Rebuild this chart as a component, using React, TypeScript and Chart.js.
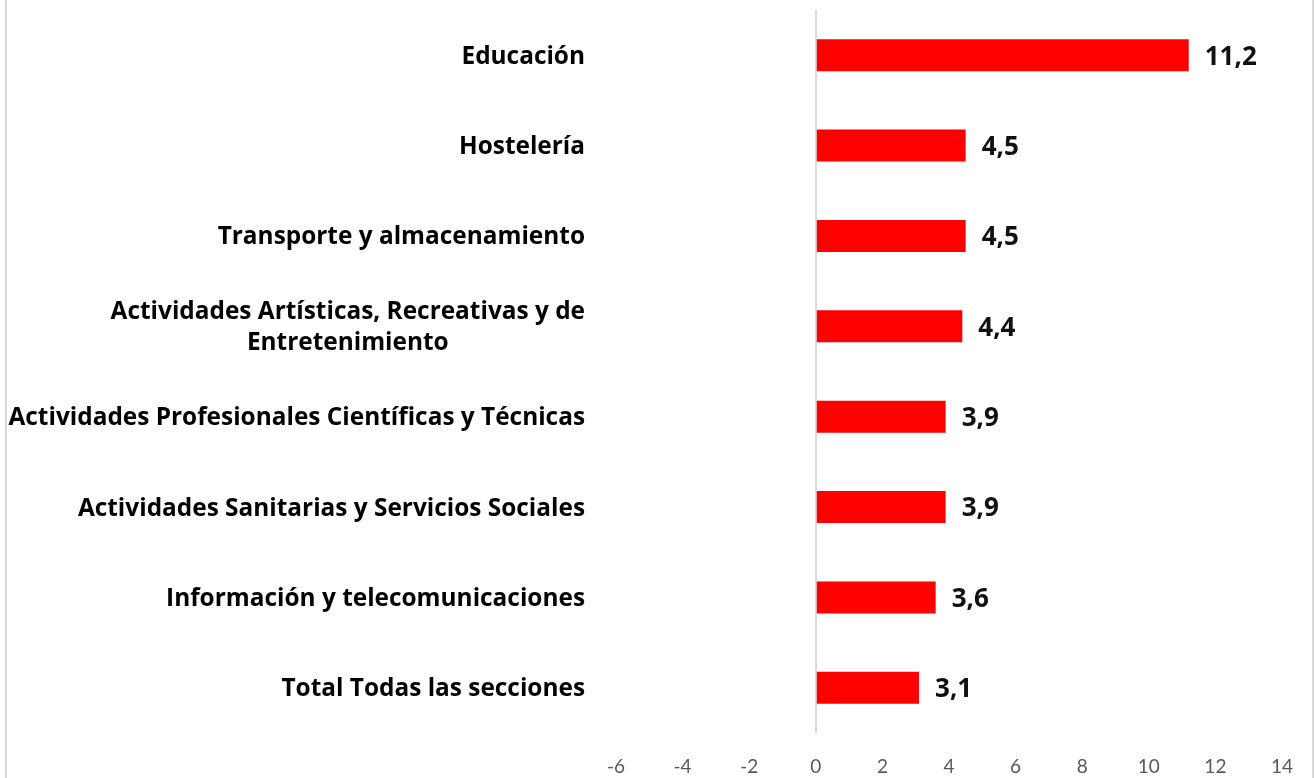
import React, { useEffect, useRef } from "react";
import { Chart, registerables } from "chart.js";

Chart.register(...registerables);

const categories: string[][] = [
  ["Educación"],
  ["Hostelería"],
  ["Transporte y almacenamiento"],
  ["Actividades Artísticas, Recreativas y de", "Entretenimiento"],
  ["Actividades Profesionales Científicas y Técnicas"],
  ["Actividades Sanitarias y Servicios Sociales"],
  ["Información y telecomunicaciones"],
  ["Total Todas las secciones"],
];
const values: number[] = [11.2, 4.5, 4.5, 4.4, 3.9, 3.9, 3.6, 3.1];
const xMin = -6;
const xMax = 14;
const xStep = 2;

const FONT = "'Open Sans', Lato, sans-serif";
const TICK_FONT = "Lato, 'Open Sans', sans-serif";

const labelPlugin = {
  id: "customLabels",
  afterDatasetsDraw(chart: any) {
    const ctx = chart.ctx;
    const yScale = chart.scales.y;
    const meta = chart.getDatasetMeta(0);
    ctx.save();
    // category labels
    ctx.font = `bold 24.4px ${FONT}`;
    ctx.fillStyle = "#000000";
    ctx.textBaseline = "middle";
    ctx.textAlign = "center";
    const rightEdge = chart.chartArea.left - 31;
    const lineH = 31;
    categories.forEach((lines, i) => {
      const yc = yScale.getPixelForValue(i) + 1.5;
      const w = Math.max(...lines.map((l) => ctx.measureText(l).width));
      const cx = rightEdge - w / 2;
      const y0 = yc - ((lines.length - 1) * lineH) / 2;
      lines.forEach((l, j) => ctx.fillText(l, cx, y0 + j * lineH));
    });
    // value labels
    ctx.font = `bold 26px ${FONT}`;
    ctx.fillStyle = "#111111";
    ctx.textAlign = "left";
    meta.data.forEach((bar: any, i: number) => {
      const txt = values[i].toFixed(1).replace(".", ",");
      ctx.fillText(txt, bar.x + 16, bar.y + 2);
    });
    ctx.restore();
  },
};

export default function App() {
  const ref = useRef<HTMLCanvasElement>(null);
  useEffect(() => {
    if (!ref.current) return;
    const chart = new Chart(ref.current, {
      type: "bar",
      data: {
        labels: categories.map((c) => c.join(" ")),
        datasets: [
          {
            data: values,
            backgroundColor: "#FF0000",
            borderWidth: 0,
            barPercentage: 0.354,
            categoryPercentage: 1,
          },
        ],
      },
      options: {
        indexAxis: "y",
        animation: false,
        responsive: false,
        maintainAspectRatio: false,
        layout: { padding: { top: 10, right: 32, left: 0, bottom: 0 } },
        plugins: {
          legend: { display: false },
          tooltip: { enabled: false },
        },
        scales: {
          x: {
            min: xMin,
            max: xMax,
            border: { display: false },
            grid: {
              drawTicks: false,
              lineWidth: 2,
              color: (c: any) => (c.tick && c.tick.value === 0 ? "#d9d9d9" : "rgba(0,0,0,0)"),
            },
            ticks: {
              stepSize: xStep,
              padding: 22,
              color: "#595959",
              font: { family: TICK_FONT, size: 19 },
            },
            afterFit: (s: any) => {
              s.height = 45;
            },
          },
          y: {
            border: { display: false },
            grid: { display: false, drawTicks: false },
            ticks: { display: false },
            afterFit: (s: any) => {
              s.width = 616;
            },
          },
        },
      },
      plugins: [labelPlugin],
    });
    return () => chart.destroy();
  }, []);
  return (
    <div style={{ position: "absolute", left: 0, top: 0, width: 1315, height: 778, background: "#fff" }}>
      <canvas ref={ref} width={1315} height={778} style={{ position: "absolute", left: 0, top: 0 }} />
      <div style={{ position: "absolute", left: 5, top: 0, width: 2, height: 778, background: "#d9d9d9" }} />
      <div style={{ position: "absolute", left: 1312, top: 0, width: 2, height: 778, background: "#d9d9d9" }} />
    </div>
  );
}
